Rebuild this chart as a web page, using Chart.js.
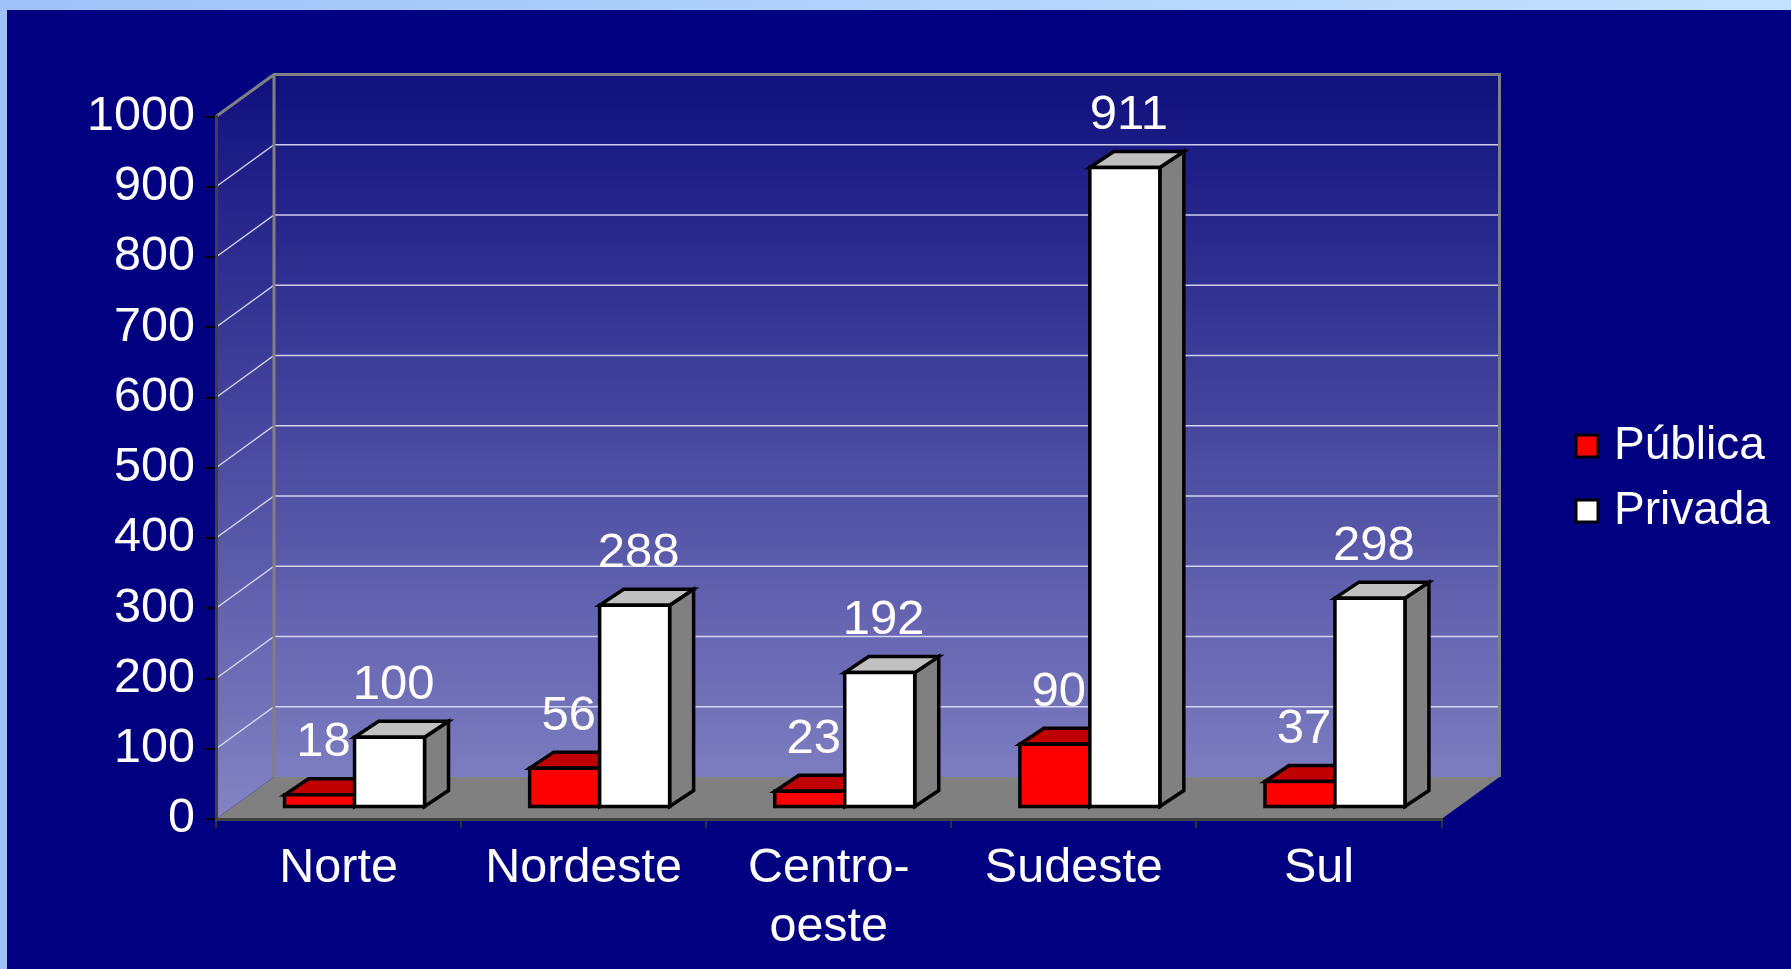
<!DOCTYPE html>
<html>
<head>
<meta charset="utf-8">
<script src="https://cdn.jsdelivr.net/npm/chart.js@4.4.1/dist/chart.umd.min.js"></script>
<style>
  html, body { margin: 0; padding: 0; overflow: hidden; background: #000080; }
  canvas { display: block; }
</style>
</head>
<body>
<canvas id="chart" width="1791" height="969"></canvas>
<script>
// data
const categories = ['Norte', 'Nordeste', ['Centro-', 'oeste'], 'Sudeste', 'Sul'];
const seriesNames = ['Pública', 'Privada'];
const publica = [18, 56, 23, 90, 37];
const privada = [100, 288, 192, 911, 298];
const tickValues = [0, 100, 200, 300, 400, 500, 600, 700, 800, 900, 1000];

// look of the 3d boxes
const faces = [
  { front: '#ff0000', top: '#c00000', side: '#800000' },
  { front: '#ffffff', top: '#c0c0c0', side: '#808080' }
];
const WALL = { dx: 58, dy: -42 };      // back wall offset from the front axis plane
const BAR_OFF = { dx: 16, dy: -11.5 }; // bars sit a bit behind the front plane
const BAR_DEPTH = { dx: 24, dy: -16 };
const FONT = "'Liberation Sans', Arial, sans-serif";

Chart.defaults.font.family = FONT;

function poly(ctx, pts) {
  ctx.beginPath();
  ctx.moveTo(pts[0][0], pts[0][1]);
  for (let i = 1; i < pts.length; i++) ctx.lineTo(pts[i][0], pts[i][1]);
  ctx.closePath();
}

const threeD = {
  id: 'threeD',
  beforeDraw(chart) {
    const { ctx, chartArea: a, scales: { y } } = chart;
    ctx.save();
    // slide frame
    const g = ctx.createLinearGradient(0, 0, chart.width, 0);
    g.addColorStop(0, '#9ec2f8');
    g.addColorStop(1, '#c4e2fe');
    ctx.fillStyle = g;
    ctx.fillRect(0, 0, chart.width, chart.height);
    ctx.fillStyle = '#000080';
    ctx.fillRect(7, 10, chart.width - 7, chart.height - 10);

    const y0 = y.getPixelForValue(y.min);
    const y1 = y.getPixelForValue(y.max);
    const L = a.left, R = a.right, W = WALL;

    const wg = ctx.createLinearGradient(0, y1 + W.dy, 0, y0);
    wg.addColorStop(0, '#10107e');
    wg.addColorStop(1, '#8383c4');

    // back wall
    ctx.fillStyle = wg;
    ctx.fillRect(L + W.dx, y1 + W.dy, R - L, y0 - y1);
    // side wall
    poly(ctx, [[L, y1], [L, y0], [L + W.dx, y0 + W.dy], [L + W.dx, y1 + W.dy]]);
    ctx.fill();
    // floor
    ctx.fillStyle = '#808080';
    poly(ctx, [[L, y0], [R, y0], [R + W.dx, y0 + W.dy], [L + W.dx, y0 + W.dy]]);
    ctx.fill();

    // gridlines on side and back wall
    ctx.strokeStyle = 'rgba(225,225,245,0.9)';
    ctx.lineWidth = 1.5;
    tickValues.forEach(v => {
      if (v === y.min || v === y.max) return;
      const py = y.getPixelForValue(v);
      ctx.beginPath();
      ctx.moveTo(L, py);
      ctx.lineTo(L + W.dx, py + W.dy);
      ctx.lineTo(R + W.dx, py + W.dy);
      ctx.stroke();
    });

    // wall edges
    ctx.strokeStyle = '#808080';
    ctx.lineWidth = 3;
    ctx.beginPath();
    ctx.moveTo(L, y1);
    ctx.lineTo(L + W.dx, y1 + W.dy);
    ctx.lineTo(R + W.dx, y1 + W.dy);
    ctx.lineTo(R + W.dx, y0 + W.dy);
    ctx.moveTo(L + W.dx, y1 + W.dy);
    ctx.lineTo(L + W.dx, y0 + W.dy);
    ctx.stroke();
    ctx.restore();
  },
  afterDatasetsDraw(chart) {
    const { ctx } = chart;
    const D = BAR_DEPTH;
    ctx.save();
    ctx.lineWidth = 3.5;
    ctx.strokeStyle = '#000';
    ctx.lineJoin = 'miter';
    const labels = [];
    categories.forEach((c, i) => {
      chart.data.datasets.forEach((ds, d) => {
        const el = chart.getDatasetMeta(d).data[i];
        const f = faces[d];
        const x0 = el.x - el.width / 2 + BAR_OFF.dx;
        const x1 = el.x + el.width / 2 + BAR_OFF.dx;
        const yt = el.y + BAR_OFF.dy;
        const yb = el.base + BAR_OFF.dy;
        // side
        poly(ctx, [[x1, yt], [x1 + D.dx, yt + D.dy], [x1 + D.dx, yb + D.dy], [x1, yb]]);
        ctx.fillStyle = f.side; ctx.fill(); ctx.stroke();
        // top
        poly(ctx, [[x0, yt], [x0 + D.dx, yt + D.dy], [x1 + D.dx, yt + D.dy], [x1, yt]]);
        ctx.fillStyle = f.top; ctx.fill(); ctx.stroke();
        // front
        poly(ctx, [[x0, yt], [x1, yt], [x1, yb], [x0, yb]]);
        ctx.fillStyle = f.front; ctx.fill(); ctx.stroke();
        labels.push([String(ds.data[i]), (x0 + x1) / 2 + 4, yt - 52]);
      });
    });
    ctx.fillStyle = '#ffffff';
    ctx.font = '49px ' + FONT;
    ctx.textAlign = 'center';
    ctx.textBaseline = 'middle';
    labels.forEach(([t, x, y]) => ctx.fillText(t, x, y));
    ctx.restore();
  },
  afterDraw(chart) {
    const { ctx } = chart;
    ctx.save();
    ctx.font = '46px ' + FONT;
    ctx.textBaseline = 'middle';
    ctx.textAlign = 'left';
    chart.data.datasets.forEach((ds, d) => {
      const cy = 446 + d * 65;
      ctx.fillStyle = faces[d].front;
      ctx.fillRect(1576, cy - 11, 22, 22);
      ctx.lineWidth = 3;
      ctx.strokeStyle = '#000';
      ctx.strokeRect(1576, cy - 11, 22, 22);
      ctx.fillStyle = '#fff';
      ctx.fillText(ds.label, 1614, cy);
    });
    ctx.restore();
  }
};

new Chart(document.getElementById('chart'), {
  type: 'bar',
  data: {
    labels: categories,
    datasets: [
      { label: seriesNames[0], data: publica },
      { label: seriesNames[1], data: privada }
    ].map(ds => Object.assign(ds, {
      backgroundColor: 'rgba(0,0,0,0)',
      borderWidth: 0,
      categoryPercentage: 0.571,
      barPercentage: 1
    }))
  },
  options: {
    responsive: false,
    animation: false,
    devicePixelRatio: 1,
    layout: { padding: { top: 116.5, right: 349.5, bottom: 0, left: 0 } },
    plugins: {
      legend: { display: false },
      tooltip: { enabled: false }
    },
    scales: {
      x: {
        grid: { offset: true, drawOnChartArea: false, drawTicks: true, tickLength: 9, color: '#303030', lineWidth: 2 },
        border: { display: true, color: '#404040', width: 3 },
        ticks: { color: '#ffffff', font: { size: 48.5 }, padding: 12, maxRotation: 0, autoSkip: false },
        afterFit(s) { s.height = 150; }
      },
      y: {
        min: tickValues[0],
        max: tickValues[tickValues.length - 1],
        ticks: {
          stepSize: tickValues[1] - tickValues[0],
          color: '#ffffff',
          font: { size: 48.5 },
          padding: 10,
          callback: v => String(v)
        },
        grid: { drawOnChartArea: false, tickLength: 11, color: '#000000', lineWidth: 2 },
        border: { display: true, color: '#404040', width: 3 },
        afterFit(s) { s.width = 216; }
      }
    }
  },
  plugins: [threeD]
});
</script>
</body>
</html>
